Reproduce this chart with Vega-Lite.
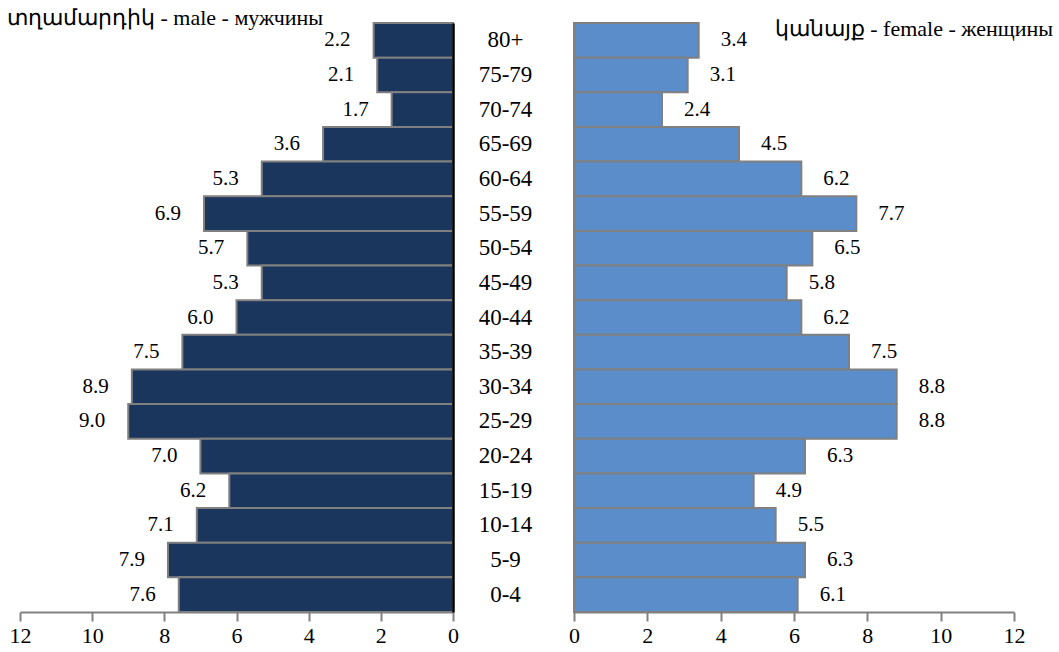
{
  "$schema": "https://vega.github.io/schema/vega-lite/v6.json",
  "padding": {"left": 7, "top": 7, "right": 0, "bottom": 0},
  "background": "white",
  "data": {"values": [
    {"age": "80+", "male": 2.2, "female": 3.4},
    {"age": "75-79", "male": 2.1, "female": 3.1},
    {"age": "70-74", "male": 1.7, "female": 2.4},
    {"age": "65-69", "male": 3.6, "female": 4.5},
    {"age": "60-64", "male": 5.3, "female": 6.2},
    {"age": "55-59", "male": 6.9, "female": 7.7},
    {"age": "50-54", "male": 5.7, "female": 6.5},
    {"age": "45-49", "male": 5.3, "female": 5.8},
    {"age": "40-44", "male": 6.0, "female": 6.2},
    {"age": "35-39", "male": 7.5, "female": 7.5},
    {"age": "30-34", "male": 8.9, "female": 8.8},
    {"age": "25-29", "male": 9.0, "female": 8.8},
    {"age": "20-24", "male": 7.0, "female": 6.3},
    {"age": "15-19", "male": 6.2, "female": 4.9},
    {"age": "10-14", "male": 7.1, "female": 5.5},
    {"age": "5-9", "male": 7.9, "female": 6.3},
    {"age": "0-4", "male": 7.6, "female": 6.1}
  ]},
  "bounds": "flush",
  "spacing": 121,
  "hconcat": [
    {
      "width": 433,
      "height": 589,
      "title": {"text": "տղամարդիկ - male - мужчины", "anchor": "start", "frame": "group", "dx": -13, "dy": 25, "fontSize": 22, "fontWeight": "normal", "font": "Liberation Serif", "color": "#000000", "offset": 0, "baseline": "alphabetic"},
      "encoding": {
        "y": {"field": "age", "type": "nominal", "sort": null,
          "scale": {"paddingInner": 0, "paddingOuter": 0},
          "axis": {"orient": "right", "title": null, "ticks": false, "labelAlign": "center", "labelPadding": 52, "labelFontSize": 23, "labelFont": "Liberation Serif", "labelColor": "#000000", "domainColor": "#000000", "domainWidth": 2.5, "zindex": 2}
        }
      },
      "layer": [
        {
          "mark": {"type": "bar", "fill": "#1B365D", "stroke": "#808080", "strokeWidth": 2},
          "encoding": {
            "x": {"field": "male", "type": "quantitative",
              "scale": {"domain": [0, 12], "reverse": true, "nice": false},
              "axis": {"title": null, "values": [0, 2, 4, 6, 8, 10, 12], "grid": false, "tickSize": 9, "tickWidth": 2, "tickColor": "#808080", "domainColor": "#808080", "domainWidth": 2, "labelFontSize": 22, "labelFont": "Liberation Serif", "labelColor": "#000000", "labelPadding": 4, "labelFlush": false, "labelOverlap": false}
            }
          }
        },
        {
          "mark": {"type": "text", "align": "right", "baseline": "middle", "dx": -23, "fontSize": 21, "font": "Liberation Serif", "color": "#000000"},
          "encoding": {
            "x": {"field": "male", "type": "quantitative"},
            "text": {"field": "male", "type": "quantitative", "format": ".1f"}
          }
        }
      ]
    },
    {
      "width": 440,
      "height": 589,
      "title": {"text": "կանայք - female - женщины", "anchor": "end", "frame": "group", "dx": 39, "dy": 36, "fontSize": 22, "fontWeight": "normal", "font": "Liberation Serif", "color": "#000000", "offset": 0, "baseline": "alphabetic"},
      "encoding": {
        "y": {"field": "age", "type": "nominal", "sort": null,
          "scale": {"paddingInner": 0, "paddingOuter": 0},
          "axis": {"orient": "left", "title": null, "ticks": false, "labels": false, "domainColor": "#808080", "domainWidth": 2, "zindex": 2}
        }
      },
      "layer": [
        {
          "mark": {"type": "bar", "fill": "#5A8DCA", "stroke": "#808080", "strokeWidth": 2},
          "encoding": {
            "x": {"field": "female", "type": "quantitative",
              "scale": {"domain": [0, 12], "nice": false},
              "axis": {"title": null, "values": [0, 2, 4, 6, 8, 10, 12], "grid": false, "tickSize": 9, "tickWidth": 2, "tickColor": "#808080", "domainColor": "#808080", "domainWidth": 2, "labelFontSize": 22, "labelFont": "Liberation Serif", "labelColor": "#000000", "labelPadding": 4, "labelFlush": false, "labelOverlap": false}
            }
          }
        },
        {
          "mark": {"type": "text", "align": "left", "baseline": "middle", "dx": 22, "fontSize": 21, "font": "Liberation Serif", "color": "#000000"},
          "encoding": {
            "x": {"field": "female", "type": "quantitative"},
            "text": {"field": "female", "type": "quantitative", "format": ".1f"}
          }
        }
      ]
    }
  ],
  "config": {"view": {"stroke": null}, "font": "Liberation Serif"}
}
